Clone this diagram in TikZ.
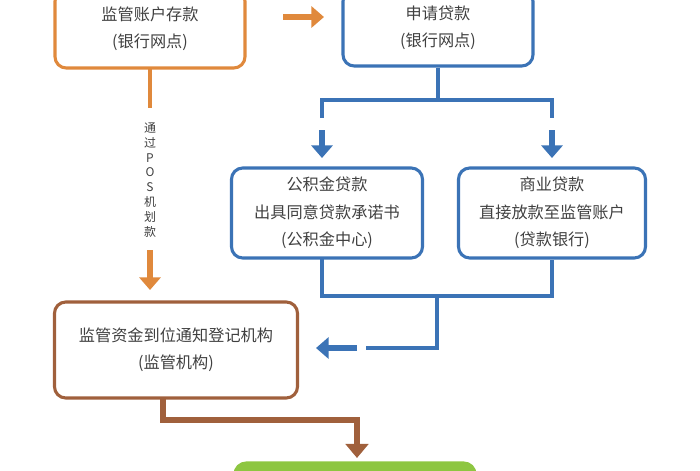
\documentclass[tikz,border=0pt]{standalone}
\usepackage{fontspec}
\setmainfont{Noto Sans CJK SC}
\usetikzlibrary{positioning, arrows.meta}
\definecolor{orangeline}{HTML}{E0893C}
\definecolor{blueline}{HTML}{3B73B6}
\definecolor{brownline}{HTML}{A0603C}
\definecolor{greenbox}{HTML}{8DC641}
\tikzset{
  stepbox/.style={line width=2.2pt, rounded corners=8pt, align=center, font=\fontsize{11.5}{19.5}\selectfont, text=black!75},
  flow/.style={line width=2.2pt},
  fat/.style={line width=4.5pt, -{Triangle[length=9pt, width=15pt]}}
}
\begin{document}
\begin{tikzpicture}[x=0.025cm, y=-0.025cm]
 \useasboundingbox (0,0) rectangle (700,470);

 \node[stepbox, draw=orangeline, minimum width=190*0.025cm, minimum height=78*0.025cm] (deposit) at (150,29) {监管账户存款\\(银行网点)};
 \node[stepbox, draw=blueline, minimum width=190*0.025cm, minimum height=76*0.025cm] (apply) at (438,28) {申请贷款\\(银行网点)};
 \node[stepbox, draw=blueline, minimum width=191*0.025cm, minimum height=90*0.025cm] (fund) at (327,213) {公积金贷款\\出具同意贷款承诺书\\(公积金中心)};
 \node[stepbox, draw=blueline, minimum width=187*0.025cm, minimum height=90*0.025cm] (bank) at (552,213) {商业贷款\\直接放款至监管账户\\(贷款银行)};
 \node[stepbox, draw=brownline, minimum width=243*0.025cm, minimum height=96*0.025cm] (notify) at (176,350) {监管资金到位通知登记机构\\(监管机构)};
 \node[draw=greenbox, fill=greenbox, line width=2.2pt, rounded corners=8pt, minimum width=240*0.025cm, minimum height=30*0.025cm] (done) at (355,478) {};

 % top row
 \draw[fat, orangeline] (283,17) -- (324,17);
 \draw[flow, orangeline] (150,68) -- (150,108);
 \node[font=\fontsize{8.5}{10.5}\selectfont, align=center, text=black!75] (pos) at (150,180) {通\\过\\P\\O\\S\\机\\划\\款};
 \draw[fat, orangeline] (150,250) -- (150,290);

 % loan split
 \coordinate (split) at (438,100);
 \draw[flow, blueline] (apply.south) -- (split);
 \draw[flow, blueline] (322,118) -- (322,100) -- (552,100) -- (552,118);
 \draw[fat, blueline] (322,130) -- (322,158);
 \draw[fat, blueline] (552,130) -- (552,158);

 % join
 \draw[flow, blueline] (322,258) -- (322,296) -- (552,296) -- (bank.south);
 \draw[flow, blueline] (437,296) -- (437,348) -- (366,348);
 \draw[fat, blueline] (357,348) -- (316,348);

 % to final
 \draw[brownline, line width=4.5pt, -{Triangle[length=10pt, width=16pt]}] (163,398) -- (163,420) -- (357,420) -- (357,458);
\end{tikzpicture}
\end{document}
